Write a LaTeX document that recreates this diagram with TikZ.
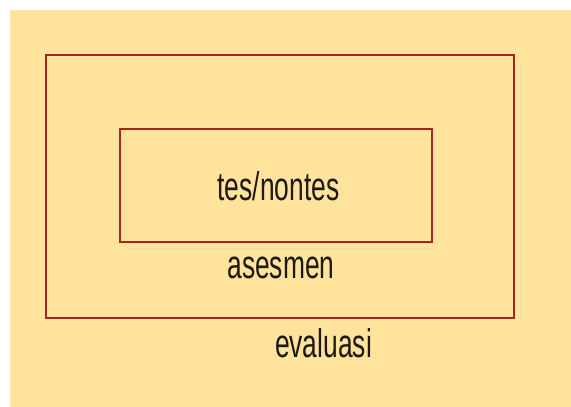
\documentclass[tikz,border=0pt]{standalone}
\usepackage{fontspec}
\setmainfont{Liberation Sans}
\usepackage{graphicx}
\definecolor{bg}{RGB}{253,227,155}
\definecolor{frame}{RGB}{168,36,26}
\definecolor{ink}{RGB}{30,25,20}
\newcommand{\condtext}[1]{\scalebox{0.66}[1]{#1}}
\begin{document}
\begin{tikzpicture}[x=1pt,y=-1pt,
  boxframe/.style={draw=frame,line width=2.4pt},
  lbl/.style={anchor=base,inner sep=0pt,text=ink,font=\fontsize{40}{42}\selectfont}]
\useasboundingbox (0,0) rectangle (571,407);
\fill[white] (0,0) rectangle (571,407);
\fill[bg] (10,10) rectangle (571,407);
\draw[boxframe] (46,55) rectangle (514,318);
\draw[boxframe] (120,129) rectangle (432,242);
\node[lbl] (tes) at (278.5,200) {\condtext{tes/nontes}};
\node[lbl] (asesmen) at (281,278) {\condtext{asesmen}};
\node[lbl] (evaluasi) at (323.5,357) {\condtext{evaluasi}};
\end{tikzpicture}
\end{document}
